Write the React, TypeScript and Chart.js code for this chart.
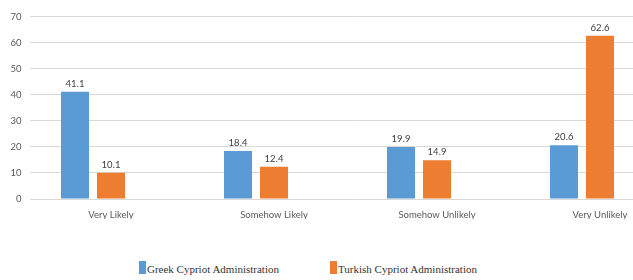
import React, { useEffect, useRef } from "react";
import { Chart, registerables } from "chart.js";

Chart.register(...registerables);

const categories = ["Very Likely", "Somehow Likely", "Somehow Unlikely", "Very Unlikely"];
const greekValues = [41.1, 18.4, 19.9, 20.6];
const turkishValues = [10.1, 12.4, 14.9, 62.6];
const emptyValues = [null, null, null, null];
const seriesNames = ["Greek Cypriot Administration", "Turkish Cypriot Administration"];
const seriesColors = ["#5B9BD5", "#ED7D31"];
const yMin = 0;
const yMax = 70;
const yStep = 10;

const valueLabels = {
  id: "valueLabels",
  afterDatasetsDraw(chart: any) {
    const ctx = chart.ctx;
    ctx.save();
    ctx.font = "9.5px Lato";
    ctx.fillStyle = "#404040";
    ctx.textAlign = "center";
    ctx.textBaseline = "middle";
    chart.data.datasets.forEach((ds: any, di: number) => {
      const meta = chart.getDatasetMeta(di);
      meta.data.forEach((el: any, i: number) => {
        const v = ds.data[i];
        if (v === null || v === undefined) return;
        ctx.fillText(v.toFixed(1), el.x, el.y - 8);
      });
    });
    ctx.restore();
  },
};

export default function App() {
  const ref = useRef<HTMLCanvasElement | null>(null);
  useEffect(() => {
    if (!ref.current) return;
    const chart = new Chart(ref.current, {
      type: "bar",
      data: {
        labels: categories,
        datasets: [
          { label: seriesNames[0], data: greekValues, backgroundColor: seriesColors[0] },
          { label: seriesNames[1], data: turkishValues, backgroundColor: seriesColors[1] },
          { label: "", data: emptyValues as any, backgroundColor: "transparent" },
        ],
      },
      options: {
        animation: false,
        responsive: false,
        maintainAspectRatio: false,
        events: [],
        layout: { padding: { top: 16.5, right: 8.5, left: 0, bottom: 0 } },
        datasets: { bar: { categoryPercentage: 108 / 163, barPercentage: 28 / 36 } } as any,
        plugins: { legend: { display: false }, tooltip: { enabled: false } },
        scales: {
          x: {
            grid: { display: false, drawTicks: false },
            border: { display: false },
            ticks: { color: "#595959", font: { family: "Lato", size: 9.5 }, padding: 10, maxRotation: 0, autoSkip: false },
            afterFit: (s: any) => { s.height = 20; },
          },
          y: {
            min: yMin,
            max: yMax,
            grid: { color: "#D9D9D9", drawTicks: false, lineWidth: 1 },
            border: { display: false },
            ticks: { stepSize: yStep, color: "#595959", font: { family: "Lato", size: 9.5 }, padding: 8 },
            afterFit: (s: any) => { s.width = 29.5; },
          },
        },
      },
      plugins: [valueLabels],
    });
    return () => chart.destroy();
  }, []);

  return (
    <div style={{ position: "fixed", left: 0, top: 0, width: 633, height: 280, overflow: "hidden", background: "#fff" }}>
      <canvas ref={ref} width={690} height={219} style={{ position: "absolute", left: 0, top: 0, width: 690, height: 219 }} />
      {seriesNames.map((name, i) => (
        <div
          key={name}
          style={{
            position: "absolute",
            left: i === 0 ? 139 : 330,
            top: 261,
            display: "flex",
            alignItems: "center",
            fontFamily: "'Liberation Serif', serif",
            fontSize: 11,
            color: "#333",
            whiteSpace: "nowrap",
          }}
        >
          <span style={{ display: "inline-block", width: 7, height: 13, background: seriesColors[i], marginRight: 1 }} />
          <span style={{ position: "relative", top: 1 }}>{name}</span>
        </div>
      ))}
    </div>
  );
}
